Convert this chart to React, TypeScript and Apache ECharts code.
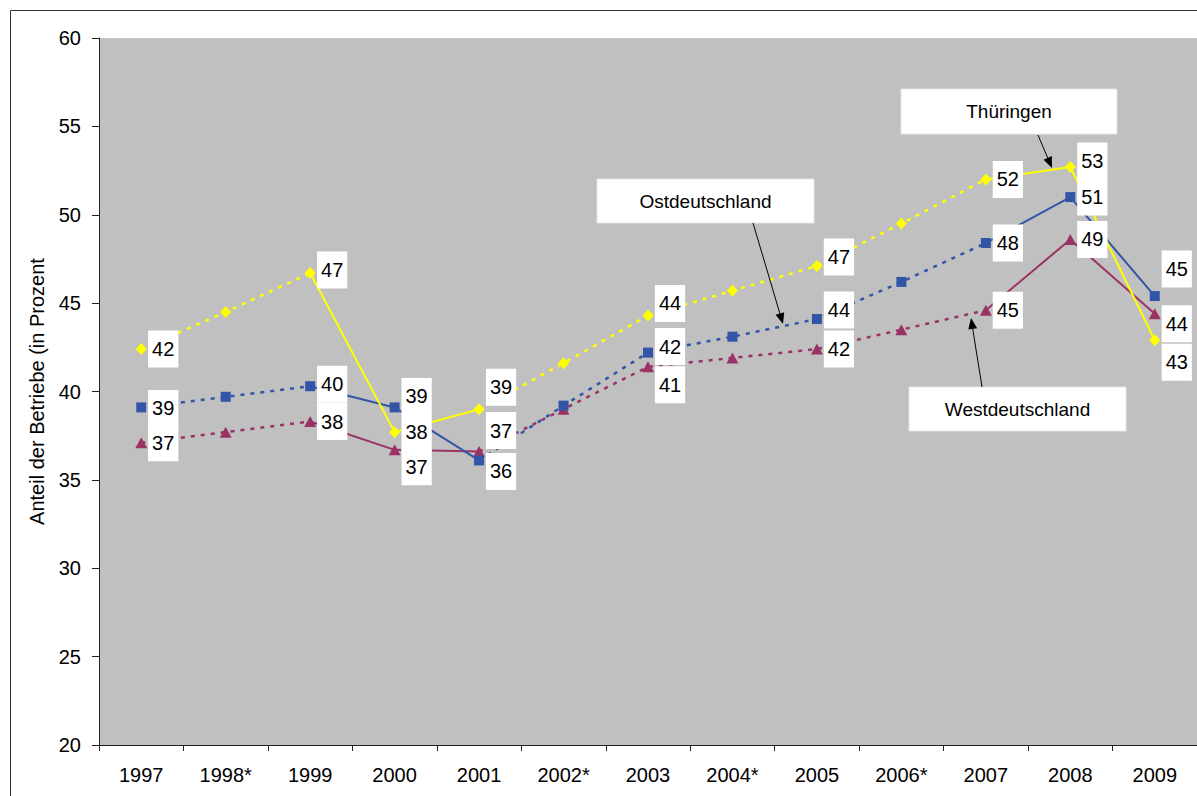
import React, { useEffect, useRef } from "react";
import * as echarts from "echarts";

const categories = ["1997", "1998*", "1999", "2000", "2001", "2002*", "2003", "2004*", "2005", "2006*", "2007", "2008", "2009"];
const thueringen = [42.4, 44.5, 46.7, 37.7, 39.0, 41.6, 44.3, 45.7, 47.1, 49.5, 52.0, 52.7, 42.9];
const ostdeutschland = [39.1, 39.7, 40.3, 39.1, 36.1, 39.2, 42.2, 43.1, 44.1, 46.2, 48.4, 51.0, 45.4];
const westdeutschland = [37.1, 37.7, 38.3, 36.7, 36.6, 39.0, 41.4, 41.9, 42.4, 43.5, 44.6, 48.6, 44.4];
// segment kind after each point: true = solid segment to next point
const solidSegment = [false, false, true, true, false, false, false, false, false, false, true, true];
const labelShown = [true, false, true, true, true, false, true, false, true, false, true, true, true];

// label layout (pixel offsets from marker centre)
const thLabelDy = [0, 0, -3, 0, -22, 0, -12, 0, -9, 0, 0, -6, 22];
const ostLabelDy = [1, 0, -2, -11, 11, 0, -6, 0, -9, 0, 0, 0, -27];
const westLabelDy = [0, 0, 0, 17, -21, 0, 18, 0, 0, 0, 0, 0, 10];

const FONT = 'Arial, "Liberation Sans", sans-serif';
const YELLOW = "#FFFF00";
const BLUE = "#3355A6";
const MAROON = "#993366";

function splitData(values: number[], solid: boolean) {
  return values.map((v, i) => {
    const prevSolid = i > 0 ? solidSegment[i - 1] === solid : false;
    const nextSolid = i < values.length - 1 ? solidSegment[i] === solid : false;
    return prevSolid || nextSolid ? v : null;
  });
}

function lineSeries(name: string, values: number[], color: string) {
  return [
    {
      name,
      type: "line",
      data: splitData(values, true),
      showSymbol: false,
      symbol: "none",
      connectNulls: false,
      lineStyle: { color, width: 2, type: "solid" },
      z: 2,
      silent: true,
    },
    {
      name: name + "-dashed",
      type: "line",
      data: splitData(values, false),
      showSymbol: false,
      symbol: "none",
      connectNulls: false,
      lineStyle: { color, width: 2.5, type: [4, 6] },
      z: 2,
      silent: true,
    },
  ];
}

function markerSeries(name: string, values: number[], color: string, symbol: string, size: any, dys: number[]) {
  return {
    name: name + "-markers",
    type: "line",
    data: values.map((v, i) => ({
      value: v,
      label: {
        show: labelShown[i],
        position: "inside",
        offset: [22, dys[i]],
      },
    })),
    symbol,
    symbolSize: size,
    showSymbol: true,
    showAllSymbol: true,
    itemStyle: { color },
    lineStyle: { opacity: 0, width: 0 },
    label: {
      show: false,
      formatter: (p: any) => String(Math.round(p.value)),
      color: "#000",
      fontFamily: FONT,
      fontSize: 20,
      lineHeight: 20,
      backgroundColor: "#FFFFFF",
      padding: [8, 4, 9, 4],
      align: "center",
      verticalAlign: "middle",
    },
    z: 5,
    silent: true,
  };
}

function callout(text: string, box: number[], from: number[], to: number[]) {
  const [bx, by, bw, bh] = box;
  const dx = to[0] - from[0];
  const dy = to[1] - from[1];
  const len = Math.sqrt(dx * dx + dy * dy);
  const ux = dx / len;
  const uy = dy / len;
  const hl = 11;
  const hw = 4.5;
  const baseX = to[0] - ux * hl;
  const baseY = to[1] - uy * hl;
  return [
    {
      type: "rect",
      shape: { x: bx, y: by, width: bw, height: bh },
      style: { fill: "#FFFFFF", stroke: "#E6E6E6", lineWidth: 1 },
      z: 50,
    },
    {
      type: "text",
      x: bx + bw / 2,
      y: by + bh / 2,
      style: { text, fill: "#000", font: `19px ${FONT}`, align: "center", verticalAlign: "middle" },
      z: 51,
    },
    {
      type: "line",
      shape: { x1: from[0], y1: from[1], x2: baseX, y2: baseY },
      style: { stroke: "#000", lineWidth: 1 },
      z: 50,
    },
    {
      type: "polygon",
      shape: {
        points: [
          [to[0], to[1]],
          [baseX - uy * hw, baseY + ux * hw],
          [baseX + uy * hw, baseY - ux * hw],
        ],
      },
      style: { fill: "#000" },
      z: 50,
    },
  ];
}

export default function App() {
  const ref = useRef<HTMLDivElement>(null);
  useEffect(() => {
    document.body.style.margin = "0";
    const chart = echarts.init(ref.current!, null, { renderer: "svg" });
    chart.setOption({
      animation: false,
      backgroundColor: "#FFFFFF",
      grid: {
        left: 99,
        top: 38,
        width: 1101,
        height: 707,
        show: true,
        backgroundColor: "#C0C0C0",
        borderWidth: 0,
      },
      xAxis: {
        type: "category",
        data: categories,
        boundaryGap: true,
        axisLine: { lineStyle: { color: "#222", width: 1 } },
        axisTick: { show: true, length: 6, lineStyle: { color: "#222" } },
        axisLabel: { color: "#000", fontFamily: FONT, fontSize: 20, margin: 20, interval: 0 },
        splitLine: { show: false },
      },
      yAxis: {
        type: "value",
        min: 20,
        max: 60,
        interval: 5,
        name: "Anteil der Betriebe (in Prozent",
        nameLocation: "middle",
        nameGap: 52,
        nameRotate: 90,
        nameTextStyle: { color: "#000", fontFamily: FONT, fontSize: 20 },
        axisLine: { show: true, lineStyle: { color: "#222", width: 1 } },
        axisTick: { show: true, length: 7, lineStyle: { color: "#222" } },
        axisLabel: { color: "#000", fontFamily: FONT, fontSize: 20, margin: 18 },
        splitLine: { show: false },
      },
      series: [
        ...lineSeries("Westdeutschland", westdeutschland, MAROON),
        ...lineSeries("Ostdeutschland", ostdeutschland, BLUE),
        ...lineSeries("Thüringen", thueringen, YELLOW),
        markerSeries("Westdeutschland", westdeutschland, MAROON, "triangle", [12, 11], westLabelDy),
        markerSeries("Ostdeutschland", ostdeutschland, BLUE, "rect", [10, 10], ostLabelDy),
        markerSeries("Thüringen", thueringen, YELLOW, "diamond", [11, 12], thLabelDy),
      ],
      graphic: [
        {
          type: "rect",
          shape: { x: 10.5, y: 10.5, width: 1200, height: 800 },
          style: { fill: "none", stroke: "#333", lineWidth: 1 },
          silent: true,
          z: 60,
        },
        ...callout("Thüringen", [901, 89, 216, 45], [1038, 135], [1052, 168]),
        ...callout("Ostdeutschland", [597, 179, 217, 44], [753, 223], [783, 324]),
        ...callout("Westdeutschland", [909, 387, 217, 44], [982, 387], [971, 318]),
      ],
    });
    return () => chart.dispose();
  }, []);
  return <div ref={ref} style={{ position: "fixed", left: 0, top: 0, width: 1197, height: 796 }} />;
}
